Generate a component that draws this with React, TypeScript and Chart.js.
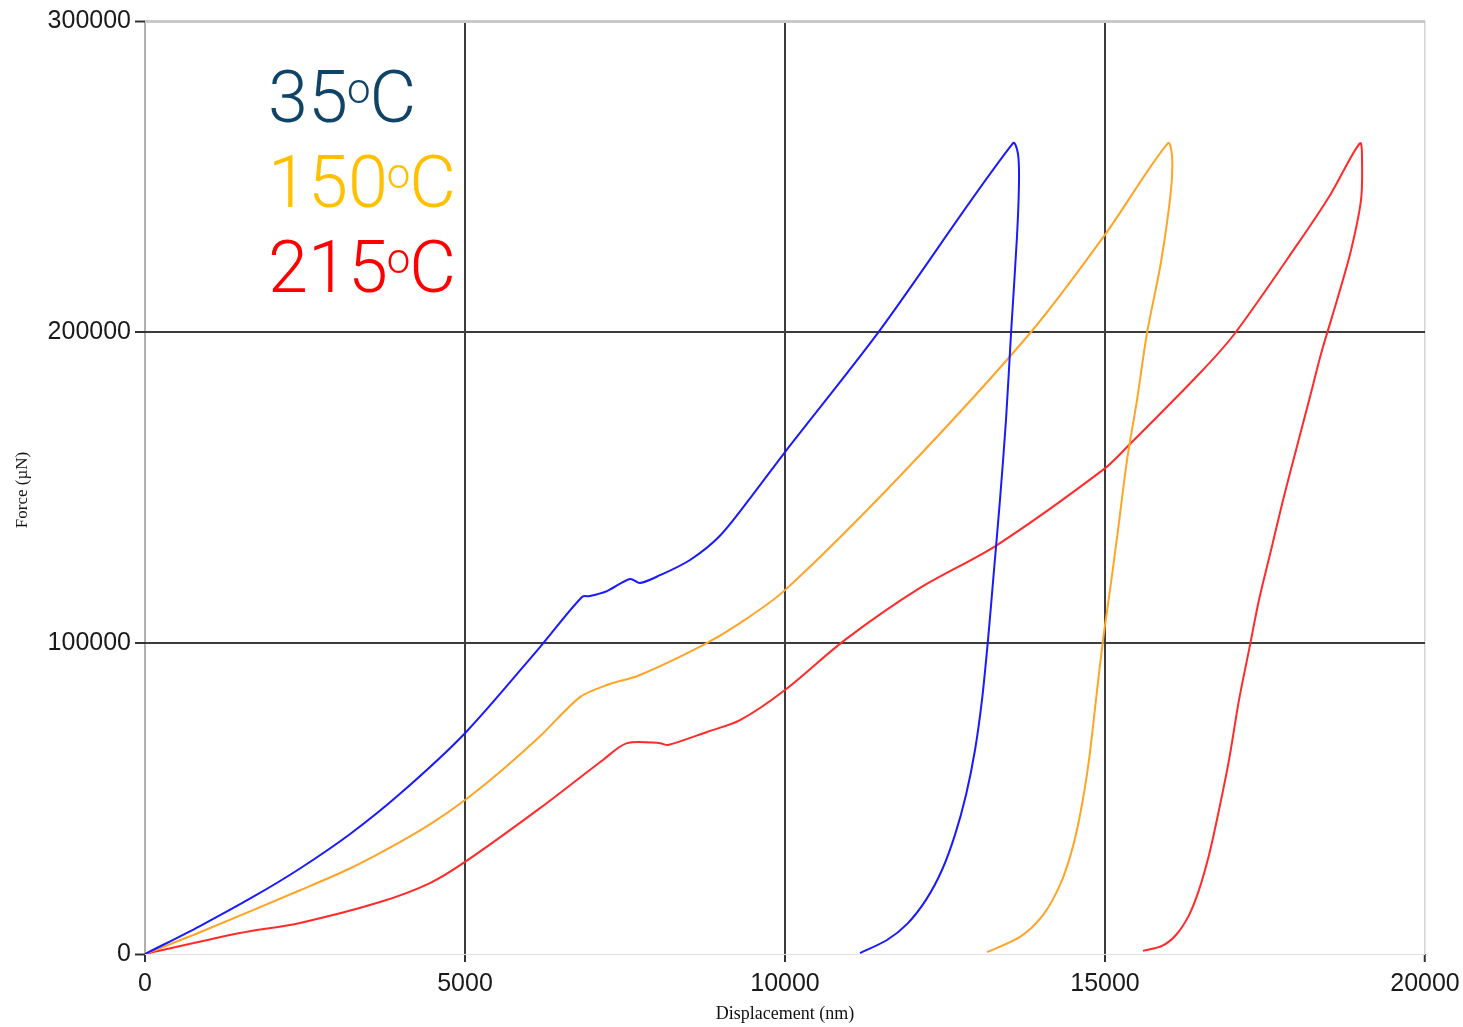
import React, { useEffect, useRef } from "react";
import { Chart, registerables } from "chart.js";

Chart.register(...registerables);

// Load–unload curves: displacement (nm) vs force (µN)
const disp35 = [0, 859, 1700, 2422, 3200, 3984, 5000, 6172, 6828, 6953, 7219, 7578, 7734, 8047, 8516, 8984, 9453, 10000, 11484, 13563,
  13641, 13656, 13625, 13531, 13453, 13359, 13266, 13172, 13078, 12969, 12828, 12656, 12453, 12203, 11906, 11594, 11172];
const force35 = [0, 9000, 18500, 27500, 38500, 51500, 71000, 98700, 114800, 115100, 116700, 120600, 119300, 121800, 126700, 134500, 146500, 161400, 200600, 260700,
  257200, 247900, 230800, 199300, 171700, 146000, 123500, 101000, 81700, 65600, 51100, 38300, 27000, 17400, 9600, 4500, 300];

const disp150 = [0, 859, 2422, 3200, 3984, 4500, 5000, 5600, 6172, 6797, 7219, 7734, 8719, 9297, 10000, 11797, 13828, 14984, 15984,
  16047, 16031, 15875, 15656, 15500, 15344, 15203, 15078, 14969, 14859, 14750, 14625, 14484, 14297, 14031, 13672, 13156];
const force150 = [0, 7000, 20500, 27500, 36000, 42300, 49500, 59500, 70000, 82600, 86500, 89700, 99300, 106400, 117000, 153700, 199600, 230800, 260700,
  256600, 245600, 222500, 199600, 178100, 158800, 136300, 117000, 101000, 81700, 62400, 46300, 33400, 22200, 12500, 5500, 600];

const disp215 = [0, 1484, 2422, 3672, 4453, 5000, 6172, 7156, 7531, 8047, 8172, 8781, 9297, 10000, 10938, 12109, 13313, 14984, 15344, 16484, 17031, 18000, 18516, 18984,
  19016, 19000, 18844, 18625, 18391, 18188, 17984, 17781, 17594, 17406, 17250, 17094, 16938, 16781, 16625, 16469, 16313, 16109, 15891, 15594];
const force215 = [0, 6750, 10000, 16700, 22800, 29600, 46900, 62400, 67800, 67800, 67200, 71400, 75200, 84900, 101000, 117700, 131500, 155900, 163000, 186800, 199600, 228000, 244000, 260700,
  255300, 242400, 226300, 210200, 194100, 178000, 162000, 145900, 129800, 113800, 97700, 81700, 62400, 46300, 31800, 20600, 12500, 6100, 2600, 1000];

const seriesLabels = ["35", "150", "215"];
const seriesColors = ["#1a1aff", "#ffa426", "#ff2a2a"];
const labelColors = ["#0f4468", "#ffc000", "#ff0000"];

const xTicks = [0, 5000, 10000, 15000, 20000];
const yTicks = [0, 100000, 200000, 300000];

const xTitle = "Displacement (nm)";
const yTitle = "Force (µN)";

const toPoints = (xs: number[], ys: number[]) => xs.map((x, i) => ({ x, y: ys[i] }));

const annotations = {
  id: "annotations",
  afterDraw(chart: any) {
    const ctx = chart.ctx;
    const area = chart.chartArea;
    ctx.save();
    // temperature labels
    const baselines = [122, 207, 292];
    seriesLabels.forEach((t, i) => {
      ctx.fillStyle = labelColors[i];
      ctx.textBaseline = "alphabetic";
      ctx.textAlign = "left";
      let x = 268;
      ctx.font = "300 72px Roboto";
      ctx.fillText(t, x, baselines[i]);
      x += ctx.measureText(t).width - 1;
      ctx.font = "300 42px Roboto";
      ctx.fillText("o", x, baselines[i] - 19);
      x += ctx.measureText("o").width - 1;
      ctx.font = "300 72px Roboto";
      ctx.fillText("C", x, baselines[i]);
    });
    // axis titles
    ctx.fillStyle = "#111";
    ctx.font = "18px 'Liberation Serif'";
    ctx.textAlign = "center";
    ctx.textBaseline = "middle";
    ctx.fillText(xTitle, (area.left + area.right) / 2, 1014);
    ctx.translate(23, 490);
    ctx.rotate(-Math.PI / 2);
    ctx.font = "17px 'Liberation Serif'";
    ctx.fillText(yTitle, 0, 0);
    ctx.restore();
  },
};

export default function App() {
  const ref = useRef<HTMLCanvasElement>(null);
  useEffect(() => {
    document.body.style.margin = "0";
    const canvas = ref.current!;
    const chart = new Chart(canvas, {
      type: "scatter",
      data: {
        datasets: [
          { label: "35", data: toPoints(disp35, force35) },
          { label: "150", data: toPoints(disp150, force150) },
          { label: "215", data: toPoints(disp215, force215) },
        ].map((d, i) => ({
          ...d,
          showLine: true,
          borderColor: seriesColors[i],
          backgroundColor: seriesColors[i],
          borderWidth: 2,
          pointRadius: 0,
          tension: 0.3,
        })),
      },
      options: {
        animation: false,
        responsive: false,
        layout: { padding: { left: 0, top: 21, right: 38, bottom: 0 } },
        plugins: { legend: { display: false }, tooltip: { enabled: false } },
        scales: {
          x: {
            type: "linear",
            min: xTicks[0],
            max: xTicks[xTicks.length - 1],
            afterBuildTicks: (s: any) => {
              s.ticks = xTicks.map((v) => ({ value: v }));
            },
            ticks: {
              color: "#1a1a1a",
              font: { family: "'Liberation Sans'", size: 25 },
              padding: 7,
              maxRotation: 0,
              callback: (v: any) => String(v),
            },
            border: { display: false },
            grid: {
              color: (c: any) => (c.tick.value === 0 ? "#b0b0b0" : c.tick.value === 20000 ? "#d4d4d4" : "#3c3c3c"),
              lineWidth: (c: any) => (c.tick.value === 0 ? 2 : c.tick.value === 20000 ? 1.5 : 2),
              tickColor: "#333",
              tickLength: 8,
              tickWidth: 2,
            },
            afterFit: (s: any) => {
              s.height = 73;
              s.paddingLeft = 0;
              s.paddingRight = 0;
            },
          },
          y: {
            type: "linear",
            min: yTicks[0],
            max: yTicks[yTicks.length - 1],
            afterBuildTicks: (s: any) => {
              s.ticks = yTicks.map((v) => ({ value: v }));
            },
            ticks: {
              color: "#1a1a1a",
              font: { family: "'Liberation Sans'", size: 25 },
              padding: 4,
              callback: (v: any) => String(v),
            },
            border: { display: false },
            grid: {
              color: (c: any) => (c.tick.value === 0 ? "#e2e2e2" : c.tick.value === 300000 ? "#c8c8c8" : "#3c3c3c"),
              lineWidth: (c: any) => (c.tick.value === 0 ? 1 : c.tick.value === 300000 ? 3 : 2),
              tickColor: "#333",
              tickLength: 10,
              tickWidth: 2,
            },
            afterFit: (s: any) => {
              s.width = 145;
              s.paddingTop = 0;
              s.paddingBottom = 0;
            },
          },
        },
      },
      plugins: [annotations],
    });
    return () => chart.destroy();
  }, []);
  return (
    <div style={{ width: 1463, height: 1027, background: "#fff" }}>
      <canvas ref={ref} width={1463} height={1027} style={{ display: "block" }} />
    </div>
  );
}
